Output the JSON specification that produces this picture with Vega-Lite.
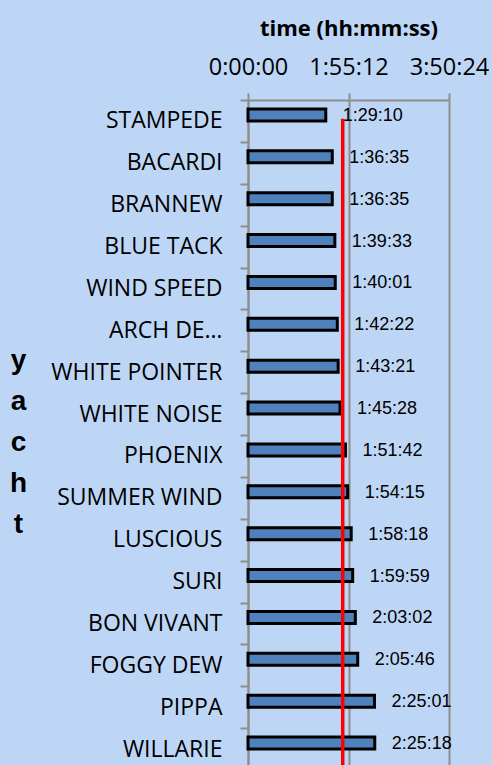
{
  "$schema": "https://vega.github.io/schema/vega-lite/v6.json",
  "width": 201,
  "height": 670,
  "autosize": {"type": "none"},
  "padding": {"left": 248, "top": 100, "right": 43, "bottom": 0},
  "background": "#bed6f5",
  "config": {
    "view": {"stroke": null},
    "axis": {"labelColor": "#000000", "titleColor": "#000000"}
  },
  "datasets": {
    "times": [
      {"yacht": "STAMPEDE", "seconds": 5350, "label": "1:29:10"},
      {"yacht": "BACARDI", "seconds": 5795, "label": "1:36:35"},
      {"yacht": "BRANNEW", "seconds": 5795, "label": "1:36:35"},
      {"yacht": "BLUE TACK", "seconds": 5973, "label": "1:39:33"},
      {"yacht": "WIND SPEED", "seconds": 6001, "label": "1:40:01"},
      {"yacht": "ARCH DE…", "seconds": 6142, "label": "1:42:22"},
      {"yacht": "WHITE POINTER", "seconds": 6201, "label": "1:43:21"},
      {"yacht": "WHITE NOISE", "seconds": 6328, "label": "1:45:28"},
      {"yacht": "PHOENIX", "seconds": 6702, "label": "1:51:42"},
      {"yacht": "SUMMER WIND", "seconds": 6855, "label": "1:54:15"},
      {"yacht": "LUSCIOUS", "seconds": 7098, "label": "1:58:18"},
      {"yacht": "SURI", "seconds": 7199, "label": "1:59:59"},
      {"yacht": "BON VIVANT", "seconds": 7382, "label": "2:03:02"},
      {"yacht": "FOGGY DEW", "seconds": 7546, "label": "2:05:46"},
      {"yacht": "PIPPA", "seconds": 8701, "label": "2:25:01"},
      {"yacht": "WILLARIE", "seconds": 8718, "label": "2:25:18"}
    ],
    "median": [
      {"seconds": 6515, "from": "STAMPEDE", "to": "WILLARIE"}
    ]
  },
  "data": {"name": "times"},
  "encoding": {
    "y": {
      "field": "yacht",
      "type": "nominal",
      "sort": null,
      "scale": {"paddingInner": 0, "paddingOuter": 0},
      "axis": {
        "title": ["y", "a", "c", "h", "t"],
        "titleAngle": 0,
        "titleX": -230,
        "titleY": 260,
        "titleAlign": "center",
        "titleBaseline": "middle",
        "titleLineHeight": 41,
        "titleFont": "Liberation Sans",
        "titleFontSize": 28,
        "titleFontWeight": "bold",
        "labelFont": "Open Sans",
        "labelFontSize": 23,
        "labelPadding": 18,
        "labelLimit": 400,
        "tickBand": "extent",
        "tickSize": 8,
        "tickColor": "#8e8e8e",
        "tickWidth": 2,
        "domainColor": "#8e8e8e",
        "domainWidth": 2,
        "grid": false
      }
    }
  },
  "layer": [
    {
      "mark": {"type": "bar", "size": 12, "fill": "#4f81bd", "stroke": "#000000", "strokeWidth": 3, "yOffset": -6},
      "encoding": {
        "x": {
          "field": "seconds",
          "type": "quantitative",
          "scale": {"domain": [0, 13824], "nice": false},
          "axis": {
            "orient": "top",
            "values": [0, 6912, 13824],
            "labelExpr": "floor(datum.value/3600) + ':' + (floor((datum.value%3600)/60) < 10 ? '0' : '') + floor((datum.value%3600)/60) + ':' + (datum.value%60 < 10 ? '0' : '') + (datum.value%60)",
            "title": "time (hh:mm:ss)",
            "titleFont": "Open Sans",
            "titleFontSize": 22,
            "titleFontWeight": "bold",
            "titleBaseline": "alphabetic",
            "titleY": -65,
            "titleX": 100.5,
            "titleAlign": "center",
            "labelFont": "Open Sans",
            "labelFontSize": 23.5,
            "labelBaseline": "alphabetic",
            "labelPadding": 19,
            "labelFlush": false,
            "labelOverlap": false,
            "tickSize": 7,
            "tickColor": "#8e8e8e",
            "tickWidth": 2,
            "domainColor": "#8e8e8e",
            "domainWidth": 2,
            "grid": true,
            "gridColor": "#8e8e8e",
            "gridWidth": 2,
            "gridOpacity": 1
          }
        }
      }
    },
    {
      "mark": {"type": "text", "align": "left", "baseline": "middle", "dx": 17, "yOffset": -5, "font": "Liberation Sans", "fontSize": 18, "color": "#000000"},
      "encoding": {
        "x": {"field": "seconds", "type": "quantitative"},
        "text": {"field": "label", "type": "nominal"}
      }
    },
    {
      "data": {"name": "median"},
      "mark": {"type": "rule", "color": "#ff0000", "strokeWidth": 3.5},
      "encoding": {
        "x": {"field": "seconds", "type": "quantitative"},
        "y": {"field": "from", "type": "nominal", "bandPosition": 0.45},
        "y2": {"field": "to", "bandPosition": 1}
      }
    }
  ]
}
